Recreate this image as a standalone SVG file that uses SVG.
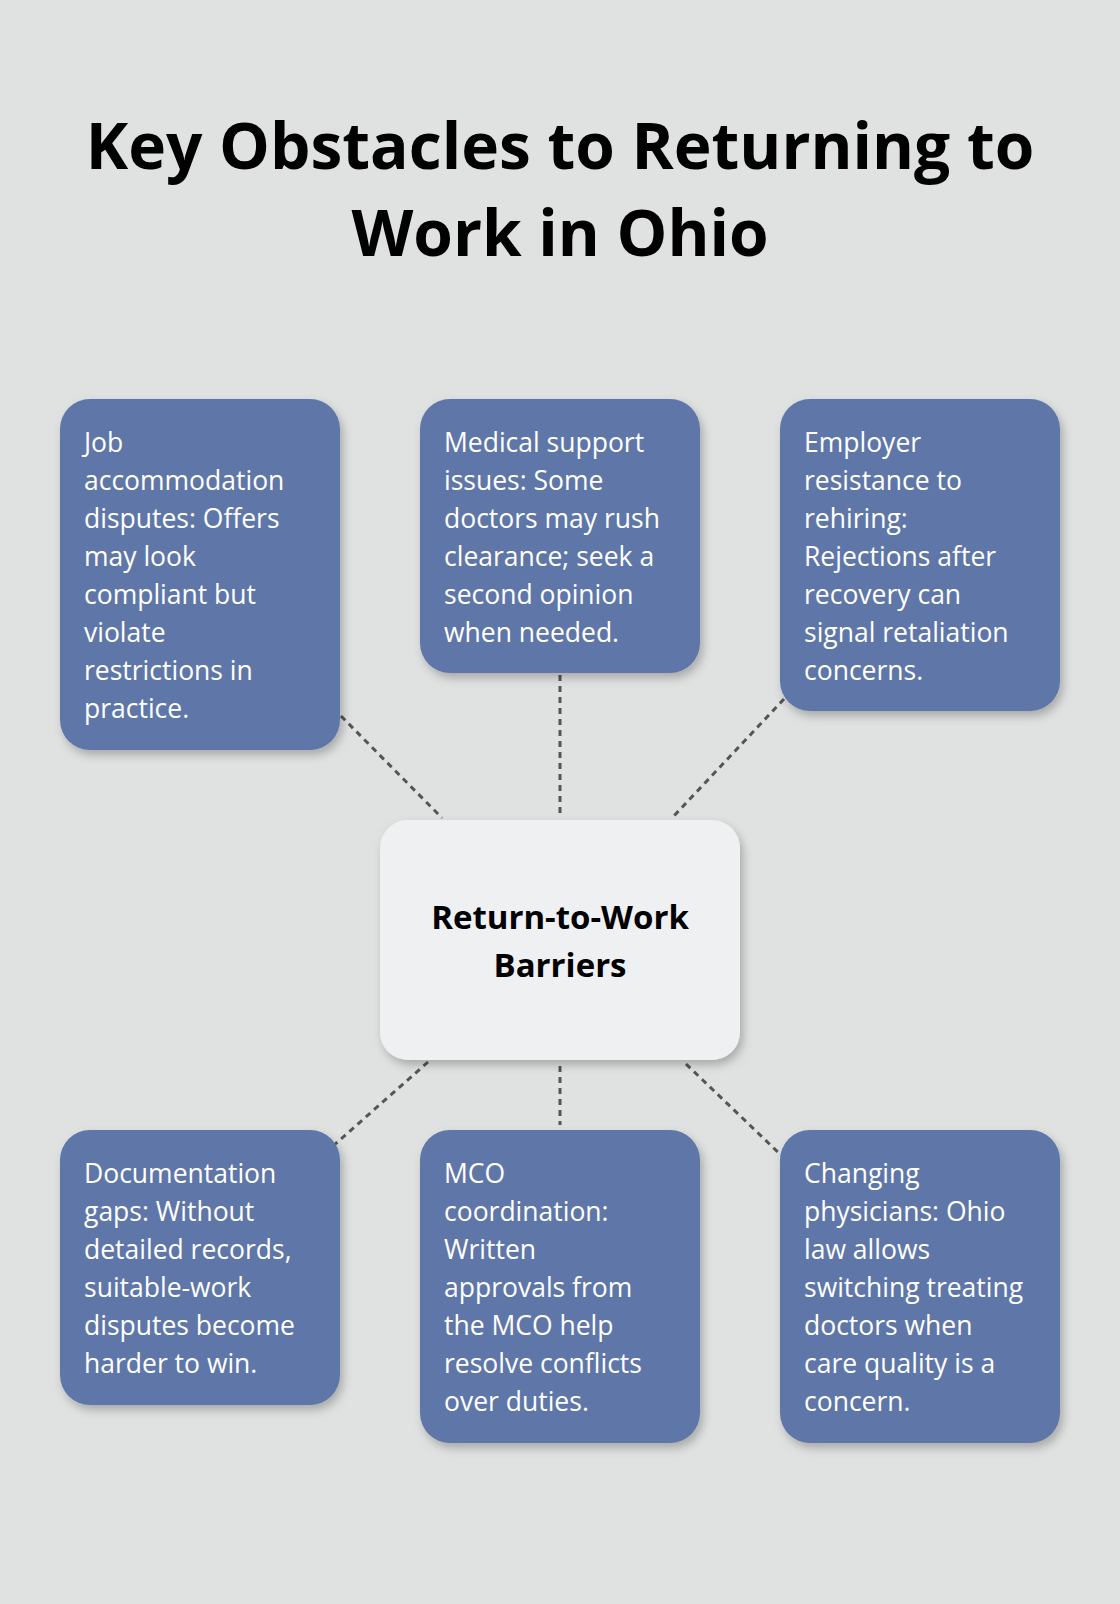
<svg xmlns="http://www.w3.org/2000/svg" width="1120" height="1604" viewBox="0 0 1120 1604">
<defs>
<filter id="sh" x="-20%" y="-20%" width="140%" height="140%"><feDropShadow dx="3" dy="5" stdDeviation="5" flood-color="#000" flood-opacity="0.25"/></filter>
<style>
.b{fill:#5e77a8;filter:url(#sh)}
.t{font-family:"Open Sans","Noto Sans",sans-serif;font-size:26.5px;fill:#fff}
.c{stroke:#555;stroke-width:3;stroke-dasharray:6 5;fill:none}
</style>
</defs>
<rect width="1120" height="1604" fill="#e0e2e1"/>
<g id="title" font-family="'Open Sans','Noto Sans',sans-serif" font-weight="bold" font-size="64" text-anchor="middle" fill="#000">
<text x="560" y="169">Key Obstacles to Returning to</text>
<text x="560" y="256">Work in Ohio</text>
</g>
<g id="connectors">
<line class="c" x1="341" y1="716" x2="442" y2="818"/>
<line class="c" x1="560" y1="675" x2="560" y2="816"/>
<line class="c" x1="784" y1="699" x2="672" y2="818"/>
<line class="c" x1="428" y1="1062" x2="333" y2="1146"/>
<line class="c" x1="560" y1="1066" x2="560" y2="1125"/>
<line class="c" x1="686" y1="1064" x2="782" y2="1156"/>
</g>
<g id="center">
<rect x="380" y="820" width="360" height="240" rx="28" fill="#eff0f2" filter="url(#sh)"/>
<text font-family="'Open Sans','Noto Sans',sans-serif" font-weight="bold" font-size="33" text-anchor="middle" fill="#000"><tspan x="560" y="929">Return-to-Work</tspan><tspan x="560" y="977">Barriers</tspan></text>
</g>
<g id="n1"><rect class="b" x="60" y="399" width="280" height="351" rx="30"/>
<text class="t"><tspan x="84" y="452">Job</tspan><tspan x="84" y="490">accommodation</tspan><tspan x="84" y="528">disputes: Offers</tspan><tspan x="84" y="566">may look</tspan><tspan x="84" y="604">compliant but</tspan><tspan x="84" y="642">violate</tspan><tspan x="84" y="680">restrictions in</tspan><tspan x="84" y="718">practice.</tspan></text></g>
<g id="n2"><rect class="b" x="420" y="399" width="280" height="274" rx="30"/>
<text class="t"><tspan x="444" y="452">Medical support</tspan><tspan x="444" y="490">issues: Some</tspan><tspan x="444" y="528">doctors may rush</tspan><tspan x="444" y="566">clearance; seek a</tspan><tspan x="444" y="604">second opinion</tspan><tspan x="444" y="642">when needed.</tspan></text></g>
<g id="n3"><rect class="b" x="780" y="399" width="280" height="312" rx="30"/>
<text class="t"><tspan x="804" y="452">Employer</tspan><tspan x="804" y="490">resistance to</tspan><tspan x="804" y="528">rehiring:</tspan><tspan x="804" y="566">Rejections after</tspan><tspan x="804" y="604">recovery can</tspan><tspan x="804" y="642">signal retaliation</tspan><tspan x="804" y="680">concerns.</tspan></text></g>
<g id="n4"><rect class="b" x="60" y="1130" width="280" height="275" rx="30"/>
<text class="t"><tspan x="84" y="1183">Documentation</tspan><tspan x="84" y="1221">gaps: Without</tspan><tspan x="84" y="1259">detailed records,</tspan><tspan x="84" y="1297">suitable-work</tspan><tspan x="84" y="1335">disputes become</tspan><tspan x="84" y="1373">harder to win.</tspan></text></g>
<g id="n5"><rect class="b" x="420" y="1130" width="280" height="313" rx="30"/>
<text class="t"><tspan x="444" y="1183">MCO</tspan><tspan x="444" y="1221">coordination:</tspan><tspan x="444" y="1259">Written</tspan><tspan x="444" y="1297">approvals from</tspan><tspan x="444" y="1335">the MCO help</tspan><tspan x="444" y="1373">resolve conflicts</tspan><tspan x="444" y="1411">over duties.</tspan></text></g>
<g id="n6"><rect class="b" x="780" y="1130" width="280" height="313" rx="30"/>
<text class="t"><tspan x="804" y="1183">Changing</tspan><tspan x="804" y="1221">physicians: Ohio</tspan><tspan x="804" y="1259">law allows</tspan><tspan x="804" y="1297">switching treating</tspan><tspan x="804" y="1335">doctors when</tspan><tspan x="804" y="1373">care quality is a</tspan><tspan x="804" y="1411">concern.</tspan></text></g>
</svg>
